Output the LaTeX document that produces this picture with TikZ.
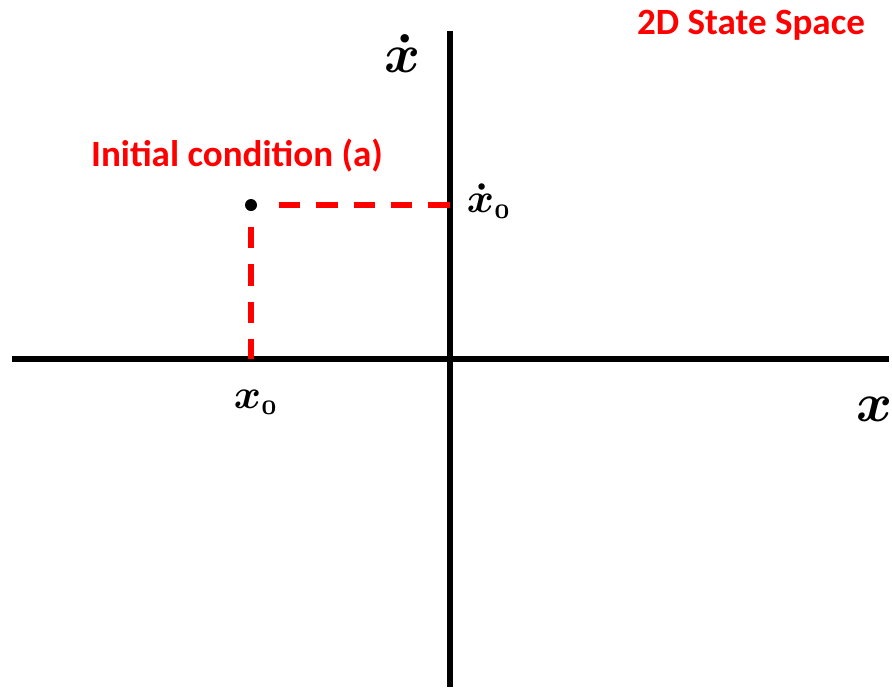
\documentclass[tikz,border=0pt]{standalone}
\usepackage{fontspec}
\setmainfont{Carlito}
\usepackage{amsmath}
\begin{document}
\begin{tikzpicture}[x=0.75pt,y=-0.75pt,
  axis/.style={line width=3.9pt,black},
  guide/.style={line width=3.8pt,red,dash pattern=on 16pt off 12pt},
  redlabel/.style={text=red,font=\fontsize{27.8}{32}\selectfont\bfseries,inner sep=0pt},
  mathlabel/.style={inner sep=0pt,font=\fontsize{10}{12}\selectfont\boldmath,scale=4.1,transform shape},
  smallmath/.style={inner sep=0pt,font=\fontsize{10}{12}\selectfont\boldmath,scale=3.1,transform shape}]
\useasboundingbox (0,0) rectangle (892,687);
% axes
\coordinate (hl) at (12,359);
\coordinate (hr) at (889,359);
\coordinate (vt) at (450,31);
\coordinate (vb) at (450,687);
\draw[axis] (hl) -- (hr);
\draw[axis] (vt) -- (vb);
% initial point
\node[circle,fill=black,inner sep=0pt,minimum size=9pt] (p) at (251,205) {};
\coordinate (px) at (251,359);
\coordinate (py) at (450,205);
\coordinate (ph) at (279,205);
\coordinate (pv) at (251,227);
\draw[guide] (ph) -- (py);
\draw[guide] (pv) -- (px);
% labels
\node[redlabel] (title) at (751,25) {2D State Space};
\node[redlabel] (ic) at (237,156) {Initial condition (a)};
\node[mathlabel,anchor=base] (xdot) at (403,72) {$\dot{x}$};
\node[mathlabel,anchor=base] (xlab) at (875,421) {$x$};
\node[smallmath,anchor=base west] (x0) at (233,408) {$x_{\scriptscriptstyle 0}$};
\node[smallmath,anchor=base west] (xd0) at (466,212) {$\dot{x}_{\scriptscriptstyle 0}$};
\end{tikzpicture}
\end{document}
